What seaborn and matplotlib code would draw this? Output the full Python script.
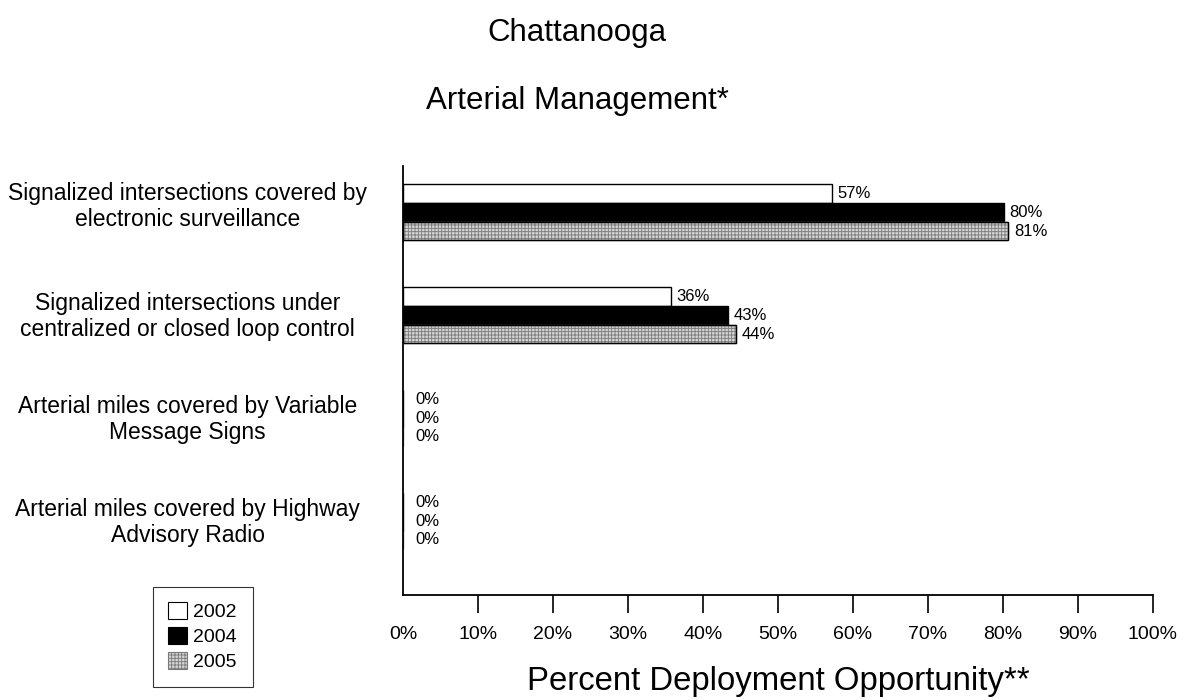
import matplotlib
matplotlib.use("Agg")
import matplotlib.pyplot as plt
import matplotlib.transforms as mtransforms
from matplotlib.patches import Rectangle
import seaborn as sns
import pandas as pd

categories = [
    "Signalized intersections covered by\nelectronic surveillance",
    "Signalized intersections under\ncentralized or closed loop control",
    "Arterial miles covered by Variable\nMessage Signs",
    "Arterial miles covered by Highway\nAdvisory Radio",
]
years = ["2002", "2004", "2005"]
values_2002 = [57.2, 35.7, 0, 0]
values_2004 = [80.1, 43.3, 0, 0]
values_2005 = [80.7, 44.4, 0, 0]
xtick_values = [0, 10, 20, 30, 40, 50, 60, 70, 80, 90, 100]
xtick_labels = [f"{v}%" for v in xtick_values]

sns.set_style("white")
plt.rcParams["font.family"] = ["Liberation Sans", "DejaVu Sans"]
plt.rcParams["text.color"] = "black"
plt.rcParams["axes.labelcolor"] = "black"
plt.rcParams["xtick.color"] = "black"
plt.rcParams["ytick.color"] = "black"
plt.rcParams["hatch.linewidth"] = 0.6

rows = []
for yr, vals in zip(years, [values_2002, values_2004, values_2005]):
    for c, v in zip(categories, vals):
        rows.append({"category": c, "year": yr, "value": v})
df = pd.DataFrame(rows)

fig = plt.figure(figsize=(11.88, 7.0), dpi=100)
ax = fig.add_axes([0.3392, 0.15, 0.6313, 0.6129])

palette = {"2002": "white", "2004": "black", "2005": "#d4d4d4"}
sns.barplot(data=df, y="category", x="value", hue="year", orient="h",
            order=categories, hue_order=years, palette=palette,
            width=0.545, edgecolor="black", linewidth=1.0, saturation=1,
            ax=ax, legend=True)

# hatch the 2005 bars (gray hatch, black outline)
hatch_cont = ax.containers[2]
for p in hatch_cont:
    p.set_hatch("+++++")
    p.set_edgecolor("#7a7a7a")
    if p.get_width() > 0:
        ax.add_patch(Rectangle(p.get_xy(), p.get_width(), p.get_height(),
                               fill=False, edgecolor="black", linewidth=1.0,
                               zorder=p.get_zorder() + 0.1))

for cont in ax.containers:
    vals = list(cont.datavalues)
    labels = [f"{v:.0f}%" for v in vals]
    nz = [l if v > 0 else "" for l, v in zip(labels, vals)]
    z = [l if v == 0 else "" for l, v in zip(labels, vals)]
    ax.bar_label(cont, labels=nz, padding=4, fontsize=12)
    ax.bar_label(cont, labels=z, padding=9, fontsize=12)

ax.set_xlim(0, 100)
ax.set_ylim(3.716, -0.45)
ax.set_xticks(xtick_values)
ax.set_xticklabels(xtick_labels, fontsize=14)
ax.tick_params(axis="x", bottom=True, direction="out", length=13, width=1.2,
               pad=9, colors="black")
ax.xaxis.get_major_ticks()[0].tick1line.set_visible(False)
ax.tick_params(axis="y", left=False, length=0, pad=155)
ax.set_yticks(range(len(categories)))
ax.set_yticklabels(categories, fontsize=16.5, ha="center", linespacing=1.18)
label_shift_pt = [7, 2, 2, 2]
for lab, sh in zip(ax.get_yticklabels(), label_shift_pt):
    lab.set_transform(lab.get_transform() +
                      mtransforms.ScaledTranslation(0, sh / 72, fig.dpi_scale_trans))

for s in ["top", "right"]:
    ax.spines[s].set_visible(False)
for s in ["left", "bottom"]:
    ax.spines[s].set_color("black")
    ax.spines[s].set_linewidth(1.3)

ax.set_ylabel("")
ax.set_xlabel("Percent Deployment Opportunity**", fontsize=23.7, labelpad=17)

fig.text(0.486, 0.953, "Chattanooga", ha="center", va="center", fontsize=22.5)
fig.text(0.486, 0.855, "Arterial Management*", ha="center", va="center", fontsize=22.5)

old = ax.get_legend()
if old is not None:
    old.remove()
handles = [Rectangle((0, 0), 1, 1, facecolor="white", edgecolor="black", linewidth=0.8),
           Rectangle((0, 0), 1, 1, facecolor="black", edgecolor="black", linewidth=0.8),
           Rectangle((0, 0), 1, 1, facecolor="#d4d4d4", edgecolor="#7a7a7a",
                     hatch="+++++", linewidth=0.8)]
leg = fig.legend(handles, years, loc="center", bbox_to_anchor=(0.1705, 0.0907),
                 bbox_transform=fig.transFigure, fontsize=14, frameon=True,
                 fancybox=False, edgecolor="black", handlelength=0.95, handleheight=0.95,
                 handletextpad=0.35, labelspacing=0.3, borderpad=0.8, borderaxespad=0)
leg.get_frame().set_linewidth(0.8)

fig.savefig("out.png", dpi=100, facecolor="white")
